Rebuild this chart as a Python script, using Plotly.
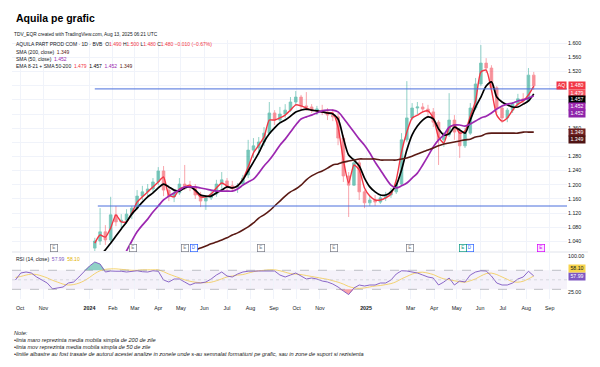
import plotly.graph_objects as go

# ---------------- data ----------------
rsi_weeks = [
    "2023-09-25", "2023-10-02", "2023-10-09", "2023-10-16", "2023-10-23", "2023-10-30",
    "2023-11-06", "2023-11-13", "2023-11-20", "2023-11-27", "2023-12-04", "2023-12-11",
    "2023-12-18", "2023-12-25", "2024-01-01",
    "2024-01-08", "2024-01-15", "2024-01-22", "2024-01-29", "2024-02-05", "2024-02-12",
    "2024-02-19", "2024-02-26", "2024-03-04", "2024-03-11", "2024-03-18", "2024-03-25",
    "2024-04-01", "2024-04-08", "2024-04-15", "2024-04-22", "2024-04-29", "2024-05-06",
    "2024-05-13", "2024-05-20", "2024-05-27", "2024-06-03", "2024-06-10", "2024-06-17",
    "2024-06-24", "2024-07-01", "2024-07-08", "2024-07-15", "2024-07-22", "2024-07-29",
    "2024-08-05", "2024-08-12", "2024-08-19", "2024-08-26", "2024-09-02", "2024-09-09",
    "2024-09-16", "2024-09-23", "2024-09-30", "2024-10-07", "2024-10-14", "2024-10-21",
    "2024-10-28", "2024-11-04", "2024-11-11", "2024-11-18", "2024-11-25", "2024-12-02",
    "2024-12-09", "2024-12-16", "2024-12-23", "2024-12-30",
    "2025-01-06", "2025-01-13", "2025-01-20", "2025-01-27", "2025-02-03", "2025-02-10",
    "2025-02-17", "2025-02-24", "2025-03-03", "2025-03-10", "2025-03-17", "2025-03-24",
    "2025-03-31", "2025-04-07", "2025-04-14", "2025-04-21", "2025-04-28", "2025-05-05",
    "2025-05-12", "2025-05-19", "2025-05-26", "2025-06-02", "2025-06-09", "2025-06-16",
    "2025-06-23", "2025-06-30", "2025-07-07", "2025-07-14", "2025-07-21", "2025-07-28",
    "2025-08-04", "2025-08-11",
]
candle_weeks = rsi_weeks[15:]

open_ = [1.021, 1.041, 1.067, 1.044, 1.115, 1.095, 1.100, 1.117, 1.134, 1.168,
         1.180, 1.188, 1.208, 1.239, 1.185, 1.166, 1.177, 1.202, 1.197, 1.194,
         1.171, 1.154, 1.163, 1.174, 1.202, 1.211, 1.197, 1.191, 1.202, 1.228,
         1.298, 1.304, 1.321, 1.346, 1.403, 1.383, 1.400, 1.411, 1.434, 1.448,
         1.423, 1.420, 1.411, 1.411, 1.406, 1.397, 1.392, 1.332, 1.225, 1.199,
         1.262, 1.180, 1.149, 1.157, 1.151, 1.163, 1.171, 1.180, 1.202, 1.327,
         1.389, 1.417, 1.420, 1.414, 1.406, 1.377, 1.327, 1.341, 1.383, 1.349,
         1.310, 1.346, 1.417, 1.485, 1.544, 1.530, 1.474, 1.417, 1.389, 1.411,
         1.428, 1.443, 1.437, 1.510]
high = [1.050, 1.134, 1.086, 1.166, 1.140, 1.117, 1.131, 1.140, 1.185, 1.197,
        1.202, 1.219, 1.250, 1.253, 1.197, 1.185, 1.219, 1.256, 1.211, 1.202,
        1.180, 1.171, 1.185, 1.214, 1.236, 1.219, 1.211, 1.205, 1.228, 1.327,
        1.332, 1.335, 1.363, 1.434, 1.411, 1.420, 1.428, 1.448, 1.465, 1.454,
        1.462, 1.428, 1.423, 1.426, 1.417, 1.414, 1.403, 1.341, 1.236, 1.276,
        1.270, 1.185, 1.168, 1.171, 1.174, 1.180, 1.191, 1.214, 1.346, 1.493,
        1.431, 1.434, 1.431, 1.426, 1.417, 1.383, 1.349, 1.459, 1.397, 1.361,
        1.361, 1.431, 1.502, 1.595, 1.558, 1.538, 1.479, 1.423, 1.417, 1.434,
        1.457, 1.459, 1.530, 1.519]
low = [1.010, 1.030, 1.030, 1.038, 1.083, 1.078, 1.089, 1.103, 1.129, 1.157,
       1.168, 1.180, 1.199, 1.168, 1.154, 1.151, 1.171, 1.185, 1.182, 1.160,
       1.137, 1.129, 1.157, 1.166, 1.188, 1.182, 1.182, 1.177, 1.197, 1.219,
       1.276, 1.284, 1.310, 1.341, 1.369, 1.377, 1.389, 1.406, 1.423, 1.411,
       1.409, 1.403, 1.397, 1.397, 1.383, 1.380, 1.312, 1.208, 1.109, 1.197,
       1.157, 1.134, 1.140, 1.140, 1.146, 1.154, 1.163, 1.174, 1.197, 1.321,
       1.383, 1.400, 1.403, 1.394, 1.363, 1.256, 1.307, 1.335, 1.327, 1.276,
       1.304, 1.341, 1.411, 1.479, 1.516, 1.462, 1.403, 1.375, 1.377, 1.403,
       1.423, 1.428, 1.434, 1.468]
close = [1.041, 1.067, 1.044, 1.115, 1.095, 1.100, 1.117, 1.134, 1.168, 1.180,
         1.188, 1.208, 1.239, 1.185, 1.166, 1.177, 1.202, 1.197, 1.194, 1.171,
         1.154, 1.163, 1.174, 1.202, 1.214, 1.197, 1.191, 1.197, 1.219, 1.298,
         1.310, 1.321, 1.346, 1.403, 1.383, 1.400, 1.411, 1.434, 1.448, 1.423,
         1.420, 1.411, 1.414, 1.406, 1.397, 1.392, 1.332, 1.225, 1.199, 1.262,
         1.180, 1.149, 1.157, 1.151, 1.163, 1.171, 1.180, 1.202, 1.327, 1.389,
         1.417, 1.420, 1.414, 1.406, 1.377, 1.327, 1.341, 1.383, 1.349, 1.310,
         1.346, 1.417, 1.485, 1.544, 1.530, 1.474, 1.417, 1.389, 1.411, 1.428,
         1.443, 1.437, 1.510, 1.480]

ema8 = [1.035, 1.058, 1.052, 1.078, 1.115, 1.095, 1.095, 1.120, 1.151, 1.166,
        1.180, 1.194, 1.208, 1.222, 1.171, 1.166, 1.188, 1.194, 1.199, 1.182,
        1.166, 1.166, 1.174, 1.191, 1.205, 1.197, 1.191, 1.197, 1.216, 1.250,
        1.290, 1.312, 1.335, 1.383, 1.383, 1.389, 1.397, 1.411, 1.426, 1.423,
        1.417, 1.411, 1.409, 1.406, 1.403, 1.403, 1.363, 1.270, 1.205, 1.256,
        1.242, 1.191, 1.168, 1.157, 1.157, 1.163, 1.174, 1.214, 1.293, 1.349,
        1.389, 1.397, 1.406, 1.409, 1.389, 1.335, 1.318, 1.361, 1.369, 1.346,
        1.352, 1.394, 1.437, 1.519, 1.524, 1.468, 1.397, 1.380, 1.389, 1.411,
        1.428, 1.437, 1.454, 1.479]
ema21 = [0.993, 1.001, 1.016, 1.035, 1.055, 1.075, 1.095, 1.117, 1.134, 1.151,
         1.166, 1.177, 1.191, 1.202, 1.194, 1.185, 1.182, 1.191, 1.194, 1.185,
         1.171, 1.168, 1.168, 1.177, 1.185, 1.194, 1.191, 1.197, 1.214, 1.239,
         1.264, 1.290, 1.321, 1.344, 1.361, 1.375, 1.383, 1.394, 1.406, 1.411,
         1.414, 1.411, 1.409, 1.406, 1.403, 1.400, 1.386, 1.332, 1.284, 1.270,
         1.253, 1.219, 1.194, 1.180, 1.171, 1.171, 1.180, 1.199, 1.242, 1.298,
         1.341, 1.366, 1.383, 1.392, 1.386, 1.358, 1.341, 1.344, 1.363, 1.355,
         1.346, 1.383, 1.420, 1.448, 1.479, 1.491, 1.448, 1.434, 1.426, 1.420,
         1.420, 1.428, 1.437, 1.457]
sma50_start = 4
sma50 = [0.965, 0.987, 1.013, 1.041, 1.067, 1.086, 1.103, 1.123, 1.140, 1.157,
         1.168, 1.177, 1.185, 1.194, 1.194, 1.194, 1.191, 1.188, 1.185, 1.182,
         1.182, 1.182, 1.182, 1.188, 1.199, 1.208, 1.216, 1.233, 1.253, 1.270,
         1.290, 1.312, 1.329, 1.349, 1.369, 1.386, 1.392, 1.397, 1.403, 1.409,
         1.411, 1.411, 1.406, 1.389, 1.369, 1.349, 1.329, 1.312, 1.290, 1.264,
         1.242, 1.219, 1.199, 1.191, 1.197, 1.205, 1.219, 1.233, 1.256, 1.281,
         1.307, 1.327, 1.341, 1.363, 1.369, 1.369, 1.366, 1.372, 1.380, 1.389,
         1.394, 1.403, 1.414, 1.423, 1.428, 1.431, 1.437, 1.440, 1.445, 1.452]
sma200_start = 17
sma200 = [1.001, 1.010, 1.016, 1.021, 1.027, 1.033, 1.038, 1.044, 1.050, 1.058,
          1.064, 1.072, 1.081, 1.092, 1.106, 1.115, 1.126, 1.140, 1.154, 1.168,
          1.180, 1.188, 1.199, 1.214, 1.225, 1.233, 1.239, 1.247, 1.256, 1.259,
          1.264, 1.267, 1.270, 1.273, 1.273, 1.273, 1.273, 1.270, 1.270, 1.270,
          1.270, 1.273, 1.276, 1.281, 1.287, 1.293, 1.298, 1.304, 1.310, 1.315,
          1.318, 1.321, 1.324, 1.327, 1.329, 1.335, 1.338, 1.344, 1.346, 1.346,
          1.346, 1.346, 1.346, 1.346, 1.349, 1.349, 1.349]

rsi = [49.6, 64.3, 66.4, 64.3, 55.9, 49.6, 43.3, 31.0, 32.8, 34.9,
       43.3, 45.4, 55.9, 68.5, 79.0, 87.4, 83.2, 66.4, 68.5, 68.0,
       68.0, 66.4, 68.0, 69.0, 67.0, 66.4, 69.0, 68.0, 49.6, 45.4,
       51.7, 51.7, 45.4, 39.1, 43.3, 43.3, 45.4, 51.7, 60.1, 66.4,
       58.0, 55.9, 62.2, 66.4, 68.0, 69.0, 68.5, 68.5, 68.0, 68.5,
       60.1, 55.9, 60.1, 64.3, 58.0, 51.7, 53.8, 51.7, 47.5, 45.4,
       41.2, 34.9, 26.5, 19.0, 32.8, 39.1, 37.0, 39.1, 39.1, 43.3,
       43.3, 49.6, 62.2, 69.0, 68.5, 67.0, 64.3, 60.1, 55.9, 53.8,
       39.1, 45.4, 53.8, 39.1, 47.5, 45.4, 60.1, 66.4, 69.0, 68.5,
       58.0, 43.3, 39.1, 39.1, 43.3, 51.7, 55.9, 68.0, 57.99]
rsi_ma = [55, 57, 60, 62, 61, 58, 54, 49, 45, 41,
          39, 40, 43, 48, 55, 63, 69, 72, 73, 73,
          72, 71, 70, 70, 71, 71, 71, 71, 67, 62,
          58, 54, 50, 47, 45, 44, 44, 45, 48, 52,
          56, 58, 60, 61, 64, 67, 69, 70, 71, 71,
          69, 66, 63, 62, 61, 59, 57, 55, 53, 51,
          48, 45, 41, 36, 33, 32, 33, 35, 37, 38,
          40, 42, 46, 52, 57, 62, 65, 66, 64, 61,
          56, 52, 50, 48, 46, 45, 48, 52, 58, 63,
          64, 61, 56, 51, 46, 45, 47, 52, 58.10]

last_bar = [1.490, 1.500, 1.480, 1.480]   # O H L C of last daily bar
last_change = ["−0.010", "−0.67%"]

level_values = [1.471, 1.140]
level_starts = ["2024-01-08", "2024-01-12"]

events_e = ["2023-11-15", "2024-02-28", "2024-05-06", "2024-08-15", "2024-11-20", "2025-02-28"]
events_d = ["2024-05-18", "2025-05-19"]
events_e_teal = ["2025-05-10"]
events_e_pink = ["2025-08-21"]

month_ticks = ["2023-10-01", "2023-11-01", "2024-01-01", "2024-02-01", "2024-03-01", "2024-04-01",
               "2024-05-01", "2024-06-01", "2024-07-01", "2024-08-01", "2024-09-01", "2024-10-01",
               "2024-11-01", "2025-01-01", "2025-03-01", "2025-04-01", "2025-05-01", "2025-06-01",
               "2025-07-01", "2025-08-01", "2025-09-01"]
month_labels = ["Oct", "Nov", "<b>2024</b>", "Feb", "Mar", "Apr", "May", "Jun", "Jul", "Aug", "Sep",
                "Oct", "Nov", "<b>2025</b>", "Mar", "Apr", "May", "Jun", "Jul", "Aug", "Sep"]
price_ticks = [1.04, 1.08, 1.12, 1.16, 1.20, 1.24, 1.28, 1.32, 1.36, 1.40, 1.44, 1.48, 1.52, 1.56, 1.60]
price_hidden = [1.32, 1.40, 1.44, 1.48]     # covered by value labels in the reference
rsi_ticks = [25, 50, 75, 100]
rsi_hidden = [50, 75]

# ---------------- styling ----------------
RED = "#F23645"
GREEN = "#089981"
BLACK = "#000000"
PURPLE = "#9C27B0"
BROWN = "#5a1a14"
RSI_C = "#7E57C2"
RSI_MA_C = "#F2C94C"
BLUE = "#4A6FDC"
TXT = "#131722"

X_RANGE = ["2023-09-20 10:00", "2025-09-24"]
L, R, T, B = 12, 33, 40, 68
W, H = 600, 367
PW, PH = W - L - R, H - T - B


def px(x):
    return (x - L) / PW


def py(y):
    return (H - B - y) / PH


fig = go.Figure()

fig.add_trace(go.Candlestick(
    x=candle_weeks, open=open_, high=high, low=low, close=close,
    increasing=dict(line=dict(color=GREEN, width=0.8), fillcolor=GREEN),
    decreasing=dict(line=dict(color=RED, width=0.8), fillcolor=RED),
    whiskerwidth=0, opacity=0.55, xaxis="x", yaxis="y", hoverinfo="skip"))

fig.add_trace(go.Scatter(x=candle_weeks, y=ema8, mode="lines",
                         line=dict(color=RED, width=1.4, shape="spline", smoothing=0.6),
                         xaxis="x", yaxis="y"))
fig.add_trace(go.Scatter(x=candle_weeks, y=ema21, mode="lines",
                         line=dict(color=BLACK, width=1.7, shape="spline", smoothing=0.8),
                         xaxis="x", yaxis="y"))
fig.add_trace(go.Scatter(x=candle_weeks[sma50_start:], y=sma50, mode="lines",
                         line=dict(color=PURPLE, width=1.7, shape="spline", smoothing=0.8),
                         xaxis="x", yaxis="y"))
fig.add_trace(go.Scatter(x=candle_weeks[sma200_start:], y=sma200, mode="lines",
                         line=dict(color=BROWN, width=1.6, shape="spline", smoothing=0.8),
                         xaxis="x", yaxis="y"))

# RSI overbought / oversold fills
fig.add_trace(go.Scatter(x=rsi_weeks, y=[70] * len(rsi_weeks), mode="lines",
                         line=dict(width=0), xaxis="x2", yaxis="y2", hoverinfo="skip"))
fig.add_trace(go.Scatter(x=rsi_weeks, y=[max(v, 70) for v in rsi], mode="lines",
                         line=dict(width=0), fill="tonexty", fillcolor="rgba(8,153,129,0.45)",
                         xaxis="x2", yaxis="y2", hoverinfo="skip"))
fig.add_trace(go.Scatter(x=rsi_weeks, y=[30] * len(rsi_weeks), mode="lines",
                         line=dict(width=0), xaxis="x2", yaxis="y2", hoverinfo="skip"))
fig.add_trace(go.Scatter(x=rsi_weeks, y=[min(v, 30) for v in rsi], mode="lines",
                         line=dict(width=0), fill="tonexty", fillcolor="rgba(242,54,69,0.45)",
                         xaxis="x2", yaxis="y2", hoverinfo="skip"))
fig.add_trace(go.Scatter(x=rsi_weeks, y=rsi_ma, mode="lines",
                         line=dict(color=RSI_MA_C, width=0.8, shape="spline", smoothing=0.8),
                         xaxis="x2", yaxis="y2"))
fig.add_trace(go.Scatter(x=rsi_weeks, y=rsi, mode="lines",
                         line=dict(color=RSI_C, width=0.9),
                         xaxis="x2", yaxis="y2"))

shapes = [
    dict(type="rect", xref="x2 domain", x0=0, x1=1, yref="y2", y0=30, y1=70,
         fillcolor="rgba(126,87,194,0.08)", line=dict(width=0), layer="below"),
    dict(type="line", xref="x2 domain", x0=0, x1=1, yref="y2", y0=70, y1=70,
         line=dict(color="#9598a1", width=0.6, dash="dash")),
    dict(type="line", xref="x2 domain", x0=0, x1=1, yref="y2", y0=30, y1=30,
         line=dict(color="#9598a1", width=0.6, dash="dash")),
    dict(type="line", xref="x2 domain", x0=0, x1=1, yref="y2", y0=50, y1=50,
         line=dict(color="#c3c5cc", width=0.6, dash="dot")),
    dict(type="line", xref="paper", x0=0, x1=px(588), yref="paper", y0=py(252), y1=py(252),
         line=dict(color="#e0e3eb", width=1)),
]
for lv, st in zip(level_values, level_starts):
    shapes.append(dict(type="line", xref="x", x0=st, x1=X_RANGE[1], yref="y", y0=lv, y1=lv,
                       line=dict(color=BLUE, width=1)))

ann = []
FONT = "Liberation Sans, Arial, sans-serif"
ann.append(dict(x=px(14), y=py(17.5), xref="paper", yref="paper", xanchor="left", yanchor="middle",
                text="<b>Aquila pe grafic</b>", showarrow=False,
                font=dict(size=10.5, color="#000000", family=FONT)))
ann.append(dict(x=px(12), y=py(34), xref="paper", yref="paper", xanchor="left", yanchor="middle",
                text="TDV_EQR created with TradingView.com, Aug 13, 2025 06:21 UTC", showarrow=False,
                font=dict(size=4.8, color=TXT, family=FONT)))


def span(c, t):
    return f"<span style='color:{c}'>{t}</span>"


o, h, l, c = last_bar
legend_lines = [
    "AQUILA PART PROD COM · 1D · BVB  O" + span(RED, f"{o:.3f}") + " H" + span(RED, f"{h:.3f}")
    + " L" + span(RED, f"{l:.3f}") + " C" + span(RED, f"{c:.3f}") + " "
    + span(RED, f"{last_change[0]} ({last_change[1]})"),
    "SMA (200, close)  " + span(BROWN, f"{sma200[-1]:.3f}"),
    "SMA (50, close)  " + span(PURPLE, f"{sma50[-1]:.3f}"),
    "EMA 8-21 + SMA 50-200  " + span(RED, f"{ema8[-1]:.3f}") + "  " + span(BLACK, f"{ema21[-1]:.3f}")
    + "  " + span(PURPLE, f"{sma50[-1]:.3f}") + "  " + span(BROWN, f"{sma200[-1]:.3f}"),
]
for i, t in enumerate(legend_lines):
    ann.append(dict(x=px(14), y=py(44.5 + 7.3 * i), xref="paper", yref="paper", xanchor="left",
                    yanchor="middle", text=t, showarrow=False, font=dict(size=5, color=TXT, family=FONT)))
ann.append(dict(x=px(14), y=py(259), xref="paper", yref="paper", xanchor="left", yanchor="middle",
                text="RSI (14, close)  " + span(RSI_C, f"{rsi[-1]:.2f}") + "  " + span("#e0b000", f"{rsi_ma[-1]:.2f}"),
                showarrow=False, font=dict(size=5, color=TXT, family=FONT)))

notes = [
    "<i>Note:</i>",
    "<i>•linia maro reprezinta media mobila simpla de 200 de zile</i>",
    "<i>•linia mov reprezinta media mobila simpla de 50 de zile</i>",
    "<i>•liniile albastre au fost trasate de autorul acestei analize in zonele unde s-au semnalat formatiuni pe grafic, sau in zone de suport si rezistenta</i>",
]
for i, t in enumerate(notes):
    ann.append(dict(x=px(12), y=py(332.5 + 7 * i), xref="paper", yref="paper", xanchor="left",
                    yanchor="middle", text=t, showarrow=False, font=dict(size=5.6, color="#222222", family=FONT)))


# right-hand value labels
def value_label(val, text, bg, fg="#ffffff", shift=0, yref="y"):
    return dict(x=1, xref="paper", xanchor="left", xshift=1, y=val, yref=yref, yanchor="middle",
                yshift=shift, text=text, showarrow=False, bgcolor=bg, width=16, height=6.5,
                borderpad=0, font=dict(size=5.2, color=fg, family=FONT))


ann.append(dict(x=1, xref="paper", xanchor="right", y=close[-1], yref="y", yanchor="middle",
                text="AQ", showarrow=False, bgcolor=RED, width=9, height=6.5, borderpad=0,
                font=dict(size=5, color="#ffffff", family=FONT)))
ann.append(value_label(close[-1], f"{close[-1]:.3f}", RED))
ann.append(value_label(ema8[-1], f"{ema8[-1]:.3f}", "#f5525f", shift=-7))
ann.append(value_label(ema21[-1], f"{ema21[-1]:.3f}", "#000000", shift=-6))
ann.append(value_label(sma50[-1], f"{sma50[-1]:.3f}", PURPLE, shift=-11))
ann.append(value_label(sma50[-1], f"{sma50[-1]:.3f}", "#8e24aa", shift=-18))
ann.append(value_label(sma200[-1], f"{sma200[-1]:.3f}", "#6d1f1f"))
ann.append(value_label(sma200[-1], f"{sma200[-1]:.3f}", "#4e1313", shift=-7))
ann.append(value_label(rsi[-1], f"{rsi[-1]:.2f}", RSI_C, yref="y2"))
ann.append(value_label(rsi_ma[-1], f"{rsi_ma[-1]:.2f}", "#F7D44C", fg=TXT, shift=7, yref="y2"))


# event markers
def ev(d, txt, col, bg="#ffffff"):
    return dict(x=d, xref="x", y=py(248), yref="paper", yanchor="middle", text=txt, showarrow=False,
                bgcolor=bg, bordercolor=col, borderwidth=0.7, borderpad=0.6, width=5, height=5,
                font=dict(size=4.5, color=col, family=FONT))


for d in events_e:
    ann.append(ev(d, "E", "#787b86"))
for d in events_d:
    ann.append(ev(d, "D", "#2962FF"))
for d in events_e_teal:
    ann.append(ev(d, "E", GREEN))
for d in events_e_pink:
    ann.append(ev(d, "E", "#D500F9", bg="#fbe4ff"))

fig.update_layout(
    width=W, height=H, margin=dict(l=L, r=R, t=T, b=B),
    paper_bgcolor="white", plot_bgcolor="white", showlegend=False,
    font=dict(family=FONT, size=5.5, color=TXT),
    xaxis=dict(domain=[0, 1], anchor="y", type="date", range=X_RANGE, tickvals=month_ticks,
               showticklabels=False, showgrid=True, gridcolor="#f0f3fa", gridwidth=1,
               zeroline=False, showline=False, rangeslider=dict(visible=False)),
    xaxis2=dict(domain=[0, 1], anchor="y2", type="date", range=X_RANGE, matches="x",
                tickvals=month_ticks, ticktext=month_labels, tickfont=dict(size=5.3, color=TXT),
                ticklabelstandoff=5,
                showgrid=True, gridcolor="#f0f3fa", zeroline=False, showline=False, ticks=""),
    yaxis=dict(domain=[py(251), 1], anchor="x", side="right", range=[1.0128, 1.6093],
               tickvals=price_ticks,
               ticktext=["" if v in price_hidden else f"{v:.3f}" for v in price_ticks],
               tickfont=dict(size=5.3, color=TXT), showgrid=True, gridcolor="#f0f3fa",
               zeroline=False, ticks=""),
    yaxis2=dict(domain=[0, py(253)], anchor="x2", side="right", range=[9.7, 106.3],
                tickvals=rsi_ticks,
                ticktext=["" if v in rsi_hidden else f"{v:.2f}" for v in rsi_ticks],
                tickfont=dict(size=5.3, color=TXT), showgrid=False, zeroline=False, ticks=""),
    shapes=shapes, annotations=ann,
)

fig.write_html("out.html", config={"displayModeBar": False},
               post_script="document.body.style.margin='0';")
